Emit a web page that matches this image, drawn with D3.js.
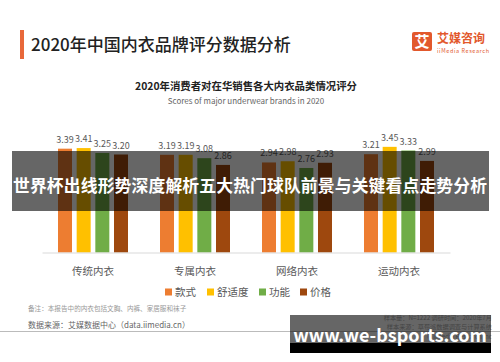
<!DOCTYPE html>
<html>
<head>
<meta charset="utf-8">
<script src="https://cdn.jsdelivr.net/npm/d3@7"></script>
<style>
body { margin: 0; background: #fff; }
svg { display: block; font-family: "Noto Sans CJK SC", "Noto Sans", sans-serif; }
</style>
</head>
<body>
<svg id="chart" width="500" height="362"></svg>
<script>
var categories = ["传统内衣", "专属内衣", "网络内衣", "运动内衣"];
var series = ["款式", "舒适度", "功能", "价格"];
var colors = ["#ED7D31", "#FFC000", "#70AD47", "#9E480E"];
var styleScores = [3.39, 3.19, 2.94, 3.21];
var comfortScores = [3.41, 3.19, 2.98, 3.45];
var functionScores = [3.25, 3.08, 2.76, 3.33];
var priceScores = [3.20, 2.86, 2.93, 2.99];

var table = [styleScores, comfortScores, functionScores, priceScores];

var svg = d3.select("#chart"),
WIDTH = 500,
HEIGHT = 362,
BASE = 252.5;

// header
svg.append("rect").attr("x", 20).attr("y", 30).attr("width", 4).attr("height", 29).attr("fill", "#E8683A");
svg.append("text").attr("x", 31).attr("y", 51).attr("font-size", 17).attr("font-weight", 500).attr("fill", "#222")
    .text("2020年中国内衣品牌评分数据分析");

// logo
svg.append("rect").attr("x", 412).attr("y", 32).attr("width", 20).attr("height", 19).attr("rx", 2).attr("fill", "#E2582C");
svg.append("text").attr("x", 422).attr("y", 47).attr("text-anchor", "middle").attr("font-size", 15)
    .attr("font-weight", "bold").attr("fill", "#fff").text("艾");
svg.append("text").attr("x", 437).attr("y", 43).attr("font-size", 12).attr("font-weight", "bold")
    .attr("fill", "#E2582C").text("艾媒咨询");
svg.append("text").attr("x", 437).attr("y", 52.5).attr("font-size", 5.5).attr("fill", "#E2582C")
    .attr("textLength", 52).text("iiMedia Research");

// chart titles
svg.append("text").attr("x", 246).attr("y", 89.5).attr("text-anchor", "middle").attr("font-size", 10.4)
    .attr("font-weight", "bold").attr("fill", "#222").text("2020年消费者对在华销售各大内衣品类情况评分");
svg.append("text").attr("x", 246).attr("y", 104).attr("text-anchor", "middle").attr("font-size", 8)
    .attr("fill", "#666").text("Scores of major underwear brands in 2020");

var x0 = d3.scaleBand().domain(categories).range([42, 450]);
var x1 = d3.scaleBand().domain(series).range([0, 70]).paddingInner(0.25);
var y = d3.scaleLinear().domain([0, 4]).range([BASE, 130]);
var groupOffset = (x0.bandwidth() - 70) / 2;

var groups = svg.selectAll("g.group")
    .data(categories)
    .enter().append("g")
    .attr("class", "group")
    .attr("transform", function (d) { return "translate(" + (x0(d) + groupOffset) + ",0)"; });

groups.selectAll("rect")
    .data(function (d, i) { return series.map(function (s, j) { return { s: s, v: table[j][i], c: colors[j] }; }); })
    .enter().append("rect")
    .attr("x", function (d) { return x1(d.s); })
    .attr("y", function (d) { return y(d.v); })
    .attr("width", x1.bandwidth())
    .attr("height", function (d) { return BASE - y(d.v); })
    .attr("fill", function (d) { return d.c; });

groups.selectAll("text")
    .data(function (d, i) { return series.map(function (s, j) { return { s: s, v: table[j][i] }; }); })
    .enter().append("text")
    .attr("x", function (d) { return x1(d.s) + x1.bandwidth() / 2; })
    .attr("y", function (d) { return y(d.v) - 6; })
    .attr("text-anchor", "middle")
    .attr("font-size", 9)
    .attr("fill", "#595959")
    .text(function (d) { return d.v.toFixed(2); });

var xAxis = d3.axisBottom(x0).tickSize(0).tickPadding(15);
var ax = svg.append("g").attr("transform", "translate(0," + BASE + ")").call(xAxis);
ax.select(".domain").attr("stroke", "#d9d9d9");
ax.selectAll("text").attr("font-size", 10.5).attr("fill", "#595959")
    .style("font-family", "'Noto Sans CJK SC', sans-serif");

// legend
var legendX = [165, 207, 259, 300];
var legend = svg.selectAll("g.legend")
    .data(series)
    .enter().append("g")
    .attr("class", "legend")
    .attr("transform", function (d, i) { return "translate(" + legendX[i] + ",292)"; });
legend.append("rect").attr("x", 0).attr("y", -3.5).attr("width", 7).attr("height", 7)
    .attr("fill", function (d, i) { return colors[i]; });
legend.append("text").attr("x", 10).attr("y", 4).attr("font-size", 10.5).attr("fill", "#595959")
    .text(function (d) { return d; });

// footer
svg.append("text").attr("x", 28).attr("y", 311).attr("font-size", 6.6).attr("fill", "#999")
    .text("备注：本报告中的内衣包括文胸、内裤、家居服和袜子");
svg.append("text").attr("x", 28).attr("y", 328).attr("font-size", 8).attr("fill", "#666")
    .text("数据来源：艾媒数据中心（data.iimedia.cn）");
svg.append("line").attr("x1", 0).attr("x2", WIDTH).attr("y1", 331.5).attr("y2", 331.5)
    .attr("stroke", "#bbb").attr("stroke-width", 1);
svg.append("text").attr("x", 492).attr("y", 320).attr("text-anchor", "end").attr("font-size", 6.2)
    .attr("fill", "#aaa").text("样本量：N=1222    调研时间：2020年7月");
svg.append("text").attr("x", 492).attr("y", 328.5).attr("text-anchor", "end").attr("font-size", 6.2)
    .attr("fill", "#aaa").text("样本来源：草莓派数据调查与计算系统");
svg.append("text").attr("x", 492).attr("y", 339).attr("text-anchor", "end").attr("font-size", 6.2)
    .attr("fill", "#aaa").text("© iiMedia Research Inc");

// watermark overlays
svg.append("rect").attr("x", 12).attr("y", 151).attr("width", 477).attr("height", 60)
    .attr("fill", "rgba(0,0,0,0.6)");
svg.append("text").attr("x", 250).attr("y", 192).attr("text-anchor", "middle").attr("font-size", 16.8)
    .attr("font-weight", "bold").attr("fill", "#fff").attr("textLength", 474)
    .text("世界杯出线形势深度解析五大热门球队前景与关键看点走势分析");

svg.append("rect").attr("x", 290).attr("y", 315).attr("width", 201).attr("height", 28)
    .attr("fill", "rgba(0,0,0,0.6)");
svg.append("rect").attr("x", 290).attr("y", 343).attr("width", 201).attr("height", 10)
    .attr("fill", "#000");
svg.append("text").attr("x", 390).attr("y", 342).attr("text-anchor", "middle").attr("font-size", 18)
    .attr("font-weight", "bold").attr("fill", "#fff").text("www.we-bsports.com");
</script>
</body>
</html>
